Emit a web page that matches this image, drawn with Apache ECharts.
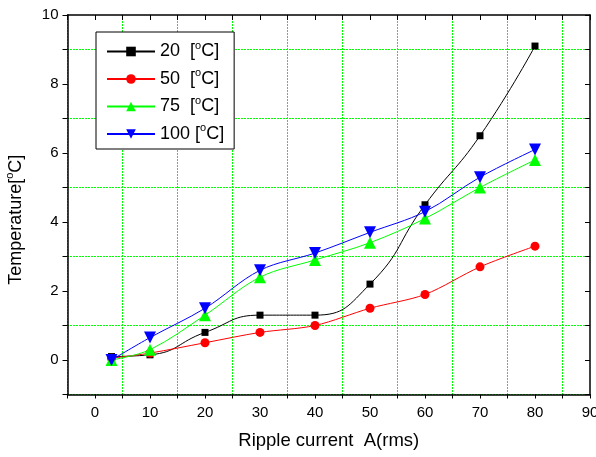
<!DOCTYPE html>
<html>
<head>
<meta charset="utf-8">
<script src="https://cdn.jsdelivr.net/npm/echarts@6/dist/echarts.min.js"></script>
<style>
  html, body { margin: 0; padding: 0; background: #fff; }
  #main { width: 596px; height: 457px; }
</style>
</head>
<body>
<div id="main"></div>
<script>
var current = [3, 10, 20, 30, 40, 50, 60, 70, 80];
var t20 = [0.1, 0.15, 0.8, 1.3, 1.3, 2.2, 4.5, 6.5, 9.1];
var t50 = [0.05, 0.2, 0.5, 0.8, 1.0, 1.5, 1.9, 2.7, 3.3];
var t75 = [0, 0.3, 1.3, 2.4, 2.9, 3.4, 4.1, 5.0, 5.8];
var t100 = [0, 0.65, 1.5, 2.6, 3.1, 3.7, 4.3, 5.3, 6.1];
var names = ['20', '50', '75', '100'];

function pairs(ys) {
  var out = [];
  for (var i = 0; i < current.length; i++) {
    out.push([current[i], ys[i]]);
  }
  return out;
}

var font = 'Liberation Sans, Arial, sans-serif';
var gridGreen = '#00ff00';
var supStyle = { fontSize: 11, color: '#000', fontFamily: font, padding: [0, 0, 12, 0] };

var myChart = echarts.init(document.getElementById('main'));

function makeSeries(idx, data, color, symbol, size, rotate, smooth) {
  return {
    name: names[idx],
    type: 'line',
    data: pairs(data),
    smooth: smooth,
    symbol: symbol,
    symbolSize: size,
    symbolRotate: rotate,
    showAllSymbol: true,
    itemStyle: { color: color },
    lineStyle: { color: color, width: 1 },
    emphasis: { disabled: true },
    z: 3
  };
}

// grid sized so 10 units on x = 55px and 1 unit on y = 34.5px, keeps the grid lines on pixel centres
myChart.setOption({
  animation: false,
  textStyle: { fontFamily: font },
  grid: { left: 67.5, right: 6, top: 15, bottom: 62.5, outerBoundsMode: 'none' },
  legend: {
    left: 96,
    top: 32,
    orient: 'vertical',
    backgroundColor: '#fff',
    borderColor: '#000',
    borderWidth: 1,
    borderRadius: 0,
    padding: [8, 10, 6, 10],
    itemWidth: 48,
    itemHeight: 12,
    itemGap: 7,
    data: names,
    formatter: function (n) {
      return (n === '100' ? n + ' ' : n + '  ') + '[{sup|o}C]';
    },
    textStyle: {
      fontSize: 18,
      color: '#000',
      fontFamily: font,
      rich: { sup: supStyle }
    }
  },
  xAxis: [{
    type: 'value',
    min: -5,
    max: 90,
    interval: 5,
    name: 'Ripple current  A(rms)',
    nameLocation: 'middle',
    nameGap: 37,
    nameTextStyle: { fontSize: 18.5, color: '#000', fontFamily: font },
    axisLine: { onZero: false, lineStyle: { color: '#000', width: 1.5 } },
    axisTick: { inside: false, length: 4, lineStyle: { color: '#000' } },
    axisLabel: {
      fontSize: 15,
      color: '#000',
      margin: 11,
      formatter: function (v) { return (v >= 0 && v % 10 === 0) ? String(v) : ''; }
    },
    splitLine: { show: true, lineStyle: { color: [gridGreen, 'rgba(0,0,0,0)'], type: [2, 1], width: 1 } }
  }, {
    type: 'value',
    position: 'top',
    min: -5,
    max: 90,
    interval: 5,
    axisLine: { onZero: false, lineStyle: { color: '#000', width: 1.5 } },
    axisTick: { inside: true, length: 5, lineStyle: { color: '#000' } },
    axisLabel: { show: false },
    splitLine: { show: false }
  }],
  yAxis: [{
    type: 'value',
    min: -1,
    max: 10,
    interval: 1,
    name: 'Temperature[{sup|o}C]',
    nameLocation: 'middle',
    nameGap: 40,
    nameTextStyle: {
      fontSize: 18, color: '#000', fontFamily: font, padding: [0, 0, 0, -30],
      rich: { sup: supStyle }
    },
    axisLine: { onZero: false, lineStyle: { color: '#000', width: 1.5 } },
    axisTick: { inside: false, length: 5, lineStyle: { color: '#000' } },
    axisLabel: {
      fontSize: 15,
      color: '#000',
      margin: 9,
      formatter: function (v) { return (v >= 0 && v % 2 === 0) ? String(v) : ''; }
    },
    splitLine: { show: true, lineStyle: { color: [gridGreen, 'rgba(0,0,0,0)'], type: [2, 1], dashOffset: 0.5, width: 1 } }
  }, {
    type: 'value',
    position: 'right',
    min: -1,
    max: 10,
    interval: 1,
    axisLine: { onZero: false, lineStyle: { color: '#000', width: 1.5 } },
    axisTick: { inside: true, length: 5, lineStyle: { color: '#000' } },
    axisLabel: { show: false },
    splitLine: { show: false }
  }],
  series: [
    makeSeries(0, t20, '#000000', 'rect', 7, 0, 0.5),
    makeSeries(1, t50, '#ff0000', 'circle', 9, 0, 0.3),
    makeSeries(2, t75, '#00ff00', 'triangle', 12, 0, 0.35),
    makeSeries(3, t100, '#0000ff', 'triangle', 12, 180, 0.35)
  ]
});
</script>
</body>
</html>
